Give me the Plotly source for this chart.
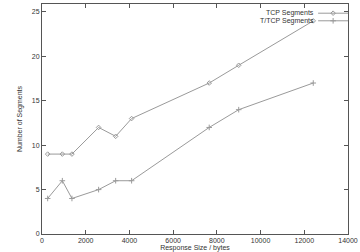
import plotly.graph_objects as go

sizes = [260, 930, 1370, 2590, 3370, 4100, 7650, 9000, 12410]
tcp_segments = [9, 9, 9, 12, 11, 13, 17, 19, 24]
ttcp_segments = [4, 6, 4, 5, 6, 6, 12, 14, 17]
x_ticks = [0, 2000, 4000, 6000, 8000, 10000, 12000, 14000]
y_ticks = [0, 5, 10, 15, 20, 25]

font = dict(family="Liberation Sans, Arial, sans-serif", size=7, color="#333")
gray = "#9a9a9a"

fig = go.Figure()
fig.add_trace(go.Scatter(x=sizes, y=tcp_segments, mode="lines+markers", name=" ", legend="legend",
                         line=dict(color=gray, width=1),
                         marker=dict(symbol="diamond-open", size=3.5, color=gray, line=dict(width=1, color=gray))))
fig.add_trace(go.Scatter(x=sizes, y=ttcp_segments, mode="lines+markers", name=" ", legend="legend2",
                         line=dict(color=gray, width=1),
                         marker=dict(symbol="cross-thin", size=4, color=gray, line=dict(width=1, color=gray))))

axis_common = dict(showgrid=False, zeroline=False, showline=True, linecolor="#555", linewidth=1,
                   mirror="ticks", ticks="inside", ticklen=4, tickcolor="#555", tickfont=font)
fig.update_xaxes(range=[0, 14000], tickvals=x_ticks, ticktext=[str(v) for v in x_ticks],
                 title=dict(text="Response Size / bytes", font=font, standoff=0), **axis_common)
fig.update_yaxes(range=[0, 25.9], tickvals=y_ticks, ticktext=[str(v) for v in y_ticks],
                 title=dict(text="Number of Segments", font=font, standoff=8), **axis_common)

fig.add_annotation(x=0.897, y=0.96, xref="paper", yref="paper", text="TCP Segments",
                   showarrow=False, xanchor="right", yanchor="middle", font=font)
fig.add_annotation(x=0.897, y=0.927, xref="paper", yref="paper", text="T/TCP Segments",
                   showarrow=False, xanchor="right", yanchor="middle", font=font)

leg = dict(xanchor="left", yanchor="middle", bgcolor="rgba(0,0,0,0)",
           font=dict(size=5), itemwidth=30, itemsizing="trace")
fig.update_layout(width=360, height=252, margin=dict(l=42, r=12, t=4, b=18, autoexpand=False),
                  paper_bgcolor="white", plot_bgcolor="white", font=font, showlegend=True,
                  legend=dict(x=0.886, y=0.96, **leg),
                  legend2=dict(x=0.886, y=0.927, **leg))

fig.write_html("out.html")
